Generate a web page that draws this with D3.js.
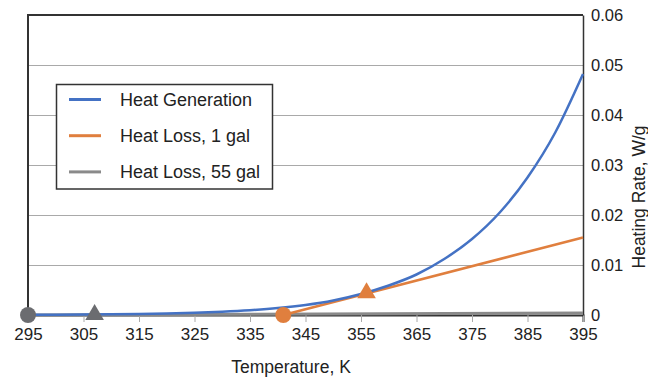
<!DOCTYPE html>
<html>
<head>
<meta charset="utf-8">
<script src="https://cdn.jsdelivr.net/npm/d3@7"></script>
<style>
  html, body { margin: 0; padding: 0; background: #fff; }
  svg { display: block; font-family: "Liberation Sans", Arial, sans-serif; }
</style>
</head>
<body>
<svg id="chart" width="648" height="378"></svg>
<script>
// Temperatures (K) at which the heat-generation rate is tabulated
const temperatures = [295, 300, 305, 310, 315, 320, 325, 330, 335, 340, 345,
                      350, 355, 360, 365, 370, 375, 380, 385, 390, 395];
// Heat generation rate (W/g) at each temperature
const heatGeneration = [0.00003, 0.00005, 0.00008, 0.00013, 0.0002, 0.0003,
                        0.00044, 0.00065, 0.00095, 0.00138, 0.002, 0.0029, 0.0042,
                        0.0059, 0.0081, 0.0112, 0.0152, 0.0205, 0.0275, 0.0365, 0.0482];
// Heat loss lines: [temperature, W/g] end points
const heatLoss1gal = [[341, 0], [395, 0.0155]];
const heatLoss55gal = [[295, 0], [395, 0.0004]];
// Marked points: ambient start (circle) and tangency (triangle)
const markers1gal = [{ t: 341, v: 0, shape: "circle" }, { t: 356, v: 0.0044, shape: "triangle" }];
const markers55gal = [{ t: 295, v: 0, shape: "circle" }, { t: 307, v: 0.00007, shape: "triangle" }];
// Axis ticks
const xTicks = [295, 305, 315, 325, 335, 345, 355, 365, 375, 385, 395];
const yTicks = [0, 0.01, 0.02, 0.03, 0.04, 0.05, 0.06];
const seriesNames = ["Heat Generation", "Heat Loss, 1 gal", "Heat Loss, 55 gal"];

const colors = { gen: "#4472c4", loss1: "#e07f3e", loss55: "#8a8a8a", mark55: "#6b6c70" };

const svg = d3.select("#chart");
const plotLeft = 28, plotRight = 583, plotTop = 15, plotBottom = 315;

const x = d3.scaleLinear().domain([295, 395]).range([plotLeft, plotRight]);
const y = d3.scaleLinear().domain([0, 0.06]).range([plotBottom, plotTop]);

// Horizontal gridlines
svg.append("g")
  .attr("transform", `translate(${plotLeft},0)`)
  .call(d3.axisLeft(y).tickValues(yTicks.slice(1, -1)).tickSize(-(plotRight - plotLeft)).tickFormat(""))
  .call(g => g.select(".domain").remove())
  .call(g => g.selectAll(".tick line").attr("stroke", "#a9a9a9").attr("stroke-width", 1));

// Frame: top and left border
svg.append("path")
  .attr("d", `M${plotLeft},${plotBottom}V${plotTop}H${plotRight}`)
  .attr("fill", "none").attr("stroke", "#333").attr("stroke-width", 2);

// Bottom axis with ticks
const xAxis = svg.append("g")
  .attr("transform", `translate(0,${plotBottom})`)
  .call(d3.axisBottom(x).tickValues(xTicks).tickSize(7).tickPadding(6).tickFormat(d3.format("d")));
xAxis.select(".domain").attr("stroke", "#333").attr("stroke-width", 2);
xAxis.selectAll(".tick line").attr("stroke", "#aaa").attr("stroke-width", 1);
xAxis.selectAll(".tick text").attr("font-size", 17).attr("fill", "#222")
  .attr("font-family", "'Liberation Sans', Arial, sans-serif");

// Right axis
const yAxis = svg.append("g")
  .attr("transform", `translate(${plotRight},0)`)
  .call(d3.axisRight(y).tickValues(yTicks).tickSize(0).tickPadding(8)
    .tickFormat(d => d === 0 ? "0" : d3.format(".2f")(d)));
yAxis.select(".domain").attr("stroke", "#333").attr("stroke-width", 1.5);
yAxis.selectAll(".tick text").attr("font-size", 16.5).attr("fill", "#222")
  .attr("font-family", "'Liberation Sans', Arial, sans-serif");

// Series lines
const line = d3.line().x(d => x(d[0])).y(d => y(d[1]));
svg.append("path").datum(heatLoss55gal).attr("d", line)
  .attr("fill", "none").attr("stroke", colors.loss55).attr("stroke-width", 3);
svg.append("path").datum(heatLoss1gal).attr("d", line)
  .attr("fill", "none").attr("stroke", colors.loss1).attr("stroke-width", 2.5);
svg.append("path").datum(temperatures.map((t, i) => [t, heatGeneration[i]]))
  .attr("d", d3.line().curve(d3.curveMonotoneX).x(d => x(d[0])).y(d => y(d[1])))
  .attr("fill", "none").attr("stroke", colors.gen).attr("stroke-width", 2.5);

// Markers
function drawMarkers(list, color) {
  list.forEach(m => {
    const sym = m.shape === "circle" ? d3.symbolCircle : d3.symbolTriangle;
    const size = m.shape === "circle" ? 200 : 150;
    svg.append("path")
      .attr("d", d3.symbol().type(sym).size(size)())
      .attr("transform", `translate(${x(m.t)},${y(m.v)})`)
      .attr("fill", color);
  });
}
drawMarkers(markers55gal, colors.mark55);
drawMarkers(markers1gal, colors.loss1);

// Legend
const legend = svg.append("g");
legend.append("rect")
  .attr("x", 56.5).attr("y", 84.5).attr("width", 216).attr("height", 104.5)
  .attr("fill", "#fff").attr("stroke", "#333").attr("stroke-width", 1.5);
[colors.gen, colors.loss1, colors.loss55].forEach((c, i) => {
  const ly = 99.5 + i * 36.2;
  legend.append("line").attr("x1", 69).attr("x2", 101).attr("y1", ly).attr("y2", ly)
    .attr("stroke", c).attr("stroke-width", 3);
  legend.append("text").attr("x", 120).attr("y", ly + 6)
    .attr("font-size", 18).attr("fill", "#222").text(seriesNames[i]);
});

// Axis titles
svg.append("text").attr("x", 291).attr("y", 373).attr("text-anchor", "middle")
  .attr("font-size", 17.5).attr("fill", "#222").text("Temperature, K");
svg.append("text").attr("transform", "translate(645,197) rotate(-90)")
  .attr("text-anchor", "middle").attr("font-size", 17.5).attr("fill", "#222")
  .text("Heating Rate, W/g");
</script>
</body>
</html>
